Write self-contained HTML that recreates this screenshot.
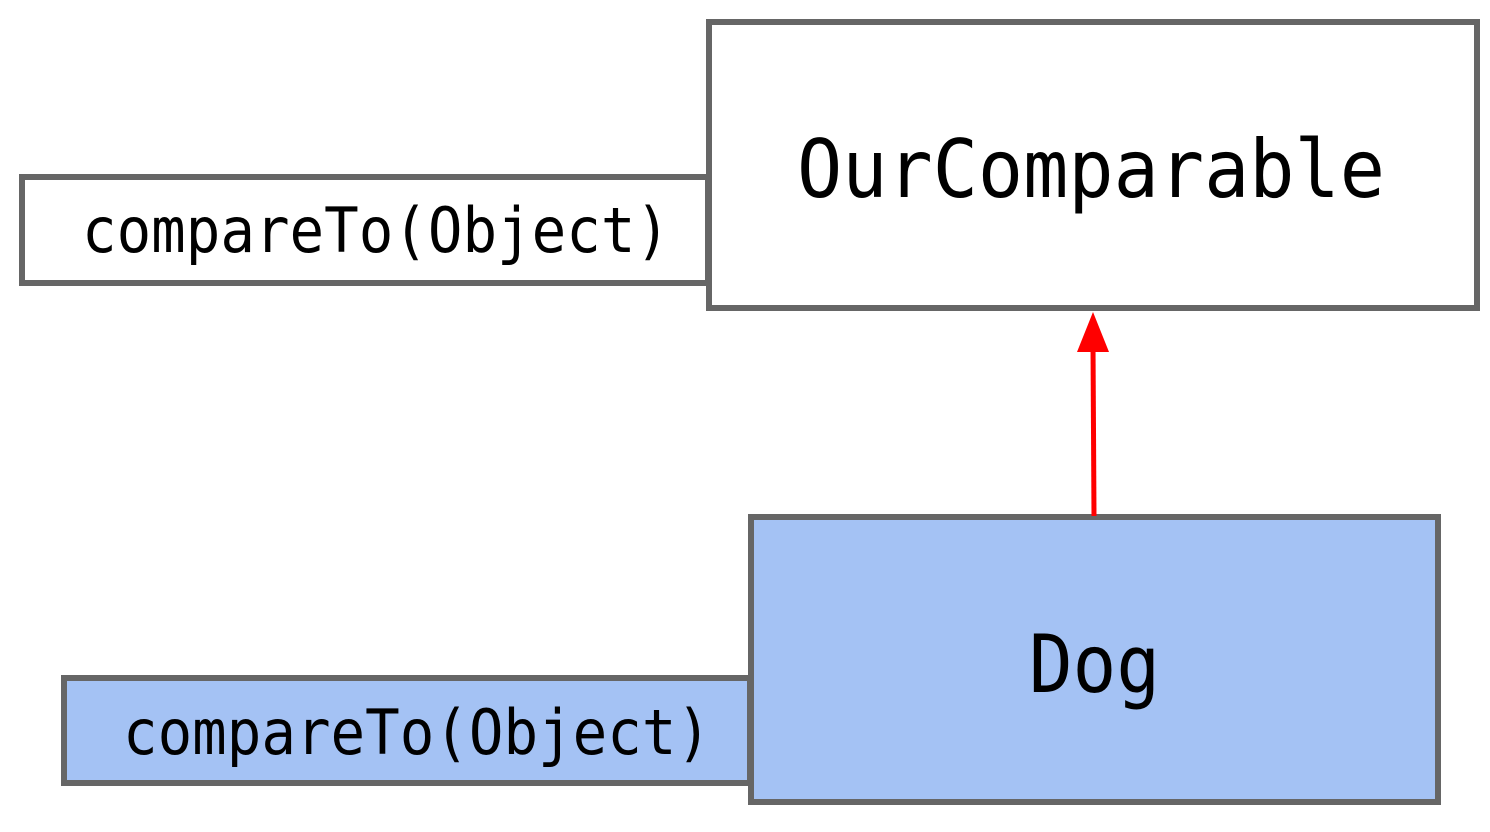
<!DOCTYPE html>
<html><head><style>
html,body{margin:0;padding:0;background:#fff;}
svg{display:block;}
text{font-family:"DejaVu Sans Mono","Liberation Mono",monospace;fill:#000;}
</style></head><body>
<svg width="1490" height="832" viewBox="0 0 1490 832" xmlns="http://www.w3.org/2000/svg">
<rect x="22" y="177" width="686" height="106" fill="#fff" stroke="#666" stroke-width="6"/>
<rect x="709" y="22" width="768" height="286" fill="#fff" stroke="#666" stroke-width="6"/>
<text x="82" y="252" font-size="62" textLength="588" lengthAdjust="spacingAndGlyphs">compareTo(Object)</text>
<text x="797" y="197" font-size="80" textLength="588" lengthAdjust="spacingAndGlyphs">OurComparable</text>
<rect x="64" y="678" width="686" height="105" fill="#a4c2f4" stroke="#666" stroke-width="6"/>
<rect x="751" y="517" width="687" height="285" fill="#a4c2f4" stroke="#666" stroke-width="6"/>
<text x="123" y="754" font-size="62" textLength="588" lengthAdjust="spacingAndGlyphs">compareTo(Object)</text>
<text x="1029" y="692" font-size="80" textLength="131" lengthAdjust="spacingAndGlyphs">Dog</text>
<line x1="1094" y1="516" x2="1093" y2="345" stroke="#f00" stroke-width="5"/>
<polygon points="1093,312 1077,352 1109,352" fill="#f00"/>
</svg>
</body></html>
